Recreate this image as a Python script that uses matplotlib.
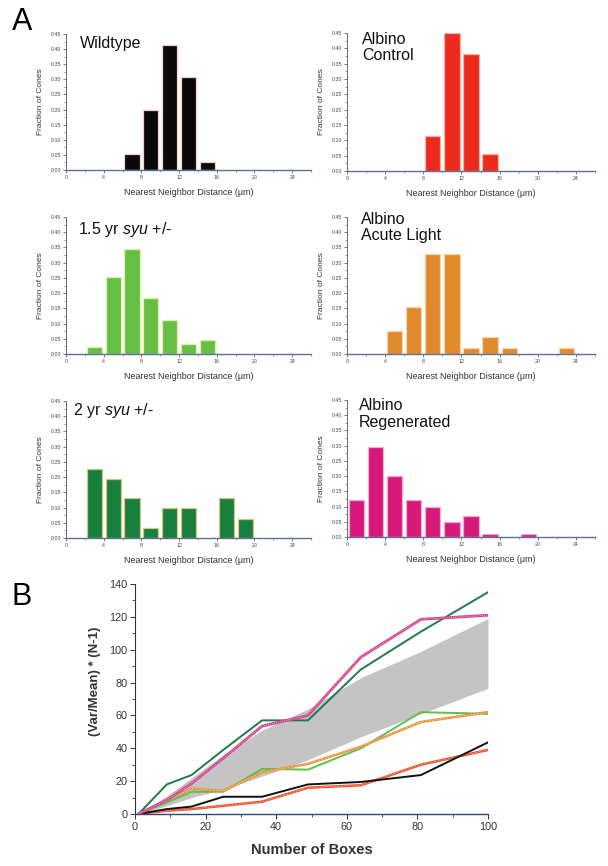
import matplotlib
matplotlib.use("Agg")
import matplotlib.pyplot as plt
from matplotlib.ticker import MultipleLocator, FormatStrFormatter

plt.rcParams["font.family"] = ["Liberation Sans", "DejaVu Sans"]
plt.rcParams["mathtext.fontset"] = "custom"
plt.rcParams["mathtext.rm"] = "Liberation Sans"
plt.rcParams["mathtext.it"] = "Liberation Sans:italic"

# --- panel A: nearest neighbor distance histograms (bin centers, um) ---
bins = [1, 3, 5, 7, 9, 11, 13, 15, 17, 19, 21, 23]
wildtype = [0, 0, 0, 0.053, 0.200, 0.415, 0.308, 0.026, 0, 0, 0, 0]
albino_control = [0, 0, 0, 0, 0.114, 0.450, 0.382, 0.057, 0, 0, 0, 0]
syu_15yr = [0, 0.022, 0.252, 0.345, 0.183, 0.113, 0.034, 0.046, 0, 0, 0, 0]
albino_acute = [0, 0, 0.077, 0.154, 0.327, 0.327, 0.020, 0.056, 0.020, 0, 0, 0.020]
syu_2yr = [0, 0.227, 0.194, 0.130, 0.033, 0.097, 0.097, 0, 0.130, 0.064, 0, 0]
albino_regen = [0.120, 0.297, 0.202, 0.120, 0.100, 0.048, 0.069, 0.010, 0, 0.010, 0, 0]

# --- panel B: (Var/Mean)*(N-1) vs number of boxes ---
boxes = [1, 9, 16, 25, 36, 49, 64, 81, 100]
vm_wildtype = [0, 3, 4.5, 10.5, 10.5, 18, 19.5, 23.7, 43.6]
vm_control = [0, 2, 3, 5, 7.5, 16, 17.5, 30, 39]
vm_syu_15yr = [0, 7, 13.5, 13.5, 27.5, 27, 40, 62, 61]
vm_acute = [0, 8.5, 15.5, 14, 25.5, 30.5, 41, 56, 62]
vm_syu_2yr = [0, 18, 23.7, 39, 57, 57, 88, 111, 135]
vm_regen = [0, 8.5, 18.5, 34, 53.5, 60, 95.5, 118.5, 121]
band_low = [0, 5, 10, 15, 23, 33, 47, 61, 76.5]
band_high = [0, 11, 22, 36, 51, 64, 83, 99, 119]

W, H = 608, 866


def px_axes(fig, left, top, right, bottom):
    return fig.add_axes([left / W, 1 - bottom / H, (right - left) / W, (bottom - top) / H])


def hist_panel(ax, values, color, edge, title, tx, ty):
    xs = [b for b, v in zip(bins, values) if v > 0]
    ys = [v for v in values if v > 0]
    ax.bar(xs, ys, width=1.6, color=color, edgecolor=edge, linewidth=0.9, zorder=2)
    ax.set_xlim(0, 26)
    ax.set_ylim(0, 0.45)
    for s in ["top", "right"]:
        ax.spines[s].set_visible(False)
    ax.spines["left"].set_color("#555555")
    ax.spines["left"].set_linewidth(0.6)
    ax.spines["bottom"].set_color("#5a6f99")
    ax.spines["bottom"].set_linewidth(1.0)
    ax.xaxis.set_major_locator(MultipleLocator(4))
    ax.xaxis.set_minor_locator(MultipleLocator(2))
    ax.yaxis.set_major_locator(MultipleLocator(0.05))
    ax.yaxis.set_minor_locator(MultipleLocator(0.025))
    ax.yaxis.set_major_formatter(FormatStrFormatter("%.2f"))
    ax.set_xticks([0, 4, 8, 12, 16, 20, 24])
    ax.tick_params(which="major", length=2, width=0.5, labelsize=3.8, pad=1.5, colors="#444444")
    ax.tick_params(which="minor", length=1.2, width=0.4, colors="#444444")
    ax.set_ylabel("Fraction of Cones", fontsize=6, color="#333333")
    ax.yaxis.set_label_coords(-0.09, 0.5)
    ax.set_xlabel("Nearest Neighbor Distance (\u03bcm)", fontsize=6.5, color="#333333")
    ax.xaxis.set_label_coords(0.5, -0.13)
    ax.text(tx, ty, title, transform=ax.transAxes, fontsize=11.5, ha="left", va="top",
            linespacing=1.15, color="#111111")


def main():
    fig = plt.figure(figsize=(W / 100, H / 100), dpi=100)

    ax1 = px_axes(fig, 66, 34, 311, 170)
    hist_panel(ax1, wildtype, "#0a0a0a", "#f2cfc6", "Wildtype", 0.057, 0.985)

    ax2 = px_axes(fig, 347, 33, 595, 171)
    hist_panel(ax2, albino_control, "#ee2a1f", "#f9b4a4", "Albino\nControl", 0.06, 1.01)

    ax3 = px_axes(fig, 66, 217, 311, 354)
    hist_panel(ax3, syu_15yr, "#66bf45", "#e6f0a8", "1.5 yr $\\mathit{syu}$ +/-", 0.049, 0.98)

    ax4 = px_axes(fig, 347, 217, 595, 354)
    hist_panel(ax4, albino_acute, "#e08a2c", "#f8d4a8", "Albino\nAcute Light", 0.056, 1.04)

    ax5 = px_axes(fig, 66, 401, 311, 538)
    hist_panel(ax5, syu_2yr, "#17803e", "#d8c27c", "2 yr $\\mathit{syu}$ +/-", 0.029, 1.0)

    ax6 = px_axes(fig, 347, 400, 595, 537)
    hist_panel(ax6, albino_regen, "#d6197b", "#f4aacb", "Albino\nRegenerated", 0.048, 1.015)

    # panel B
    ax = px_axes(fig, 135, 584, 488, 814)
    ax.fill_between(boxes, band_low, band_high, color="#c4c4c4", linewidth=0, zorder=1)
    ax.plot(boxes, vm_syu_15yr, color="#5ec048", lw=1.4, zorder=3)
    ax.plot(boxes, vm_acute, color="#e8903a", lw=1.8, zorder=3)
    ax.plot(boxes, vm_acute, color="#f8d49a", lw=0.5, ls=(0, (3, 2)), zorder=3)
    ax.plot(boxes, vm_control, color="#f0502a", lw=1.8, zorder=3)
    ax.plot(boxes, vm_control, color="#f8a88c", lw=0.5, ls=(0, (3, 2)), zorder=3)
    ax.plot(boxes, vm_wildtype, color="#111111", lw=1.4, zorder=4)
    ax.plot(boxes, vm_syu_2yr, color="#1e7b48", lw=1.4, zorder=4)
    ax.plot(boxes, vm_regen, color="#d4448e", lw=2.0, zorder=4)
    ax.plot(boxes, vm_regen, color="#f6bcd8", lw=0.6, ls=(0, (1, 1.5)), zorder=4)

    ax.set_xlim(0, 100)
    ax.set_ylim(0, 140)
    for s in ["top", "right"]:
        ax.spines[s].set_visible(False)
    ax.spines["left"].set_color("#333333")
    ax.spines["left"].set_linewidth(0.8)
    ax.spines["bottom"].set_color("#2a4a7a")
    ax.spines["bottom"].set_linewidth(1.0)
    ax.xaxis.set_major_locator(MultipleLocator(20))
    ax.xaxis.set_minor_locator(MultipleLocator(10))
    ax.yaxis.set_major_locator(MultipleLocator(20))
    ax.yaxis.set_minor_locator(MultipleLocator(10))
    ax.tick_params(which="major", length=3.5, width=0.7, labelsize=7.8, colors="#333333", pad=2)
    ax.tick_params(which="minor", length=2, width=0.6, colors="#333333")
    ax.set_ylabel("(Var/Mean) * (N-1)", fontsize=9.5, fontweight="bold", color="#333333")
    ax.yaxis.set_label_coords(-0.096, 0.575)
    ax.set_xlabel("Number of Boxes", fontsize=10.5, fontweight="bold", color="#333333")
    ax.xaxis.set_label_coords(0.5, -0.125)

    fig.text(12 / W, 1 - 22 / H, "A", fontsize=22, ha="left", va="center")
    fig.text(12 / W, 1 - 597 / H, "B", fontsize=22, ha="left", va="center")

    fig.savefig("out.png", dpi=100)
    plt.close(fig)


if __name__ == "__main__":
    main()
